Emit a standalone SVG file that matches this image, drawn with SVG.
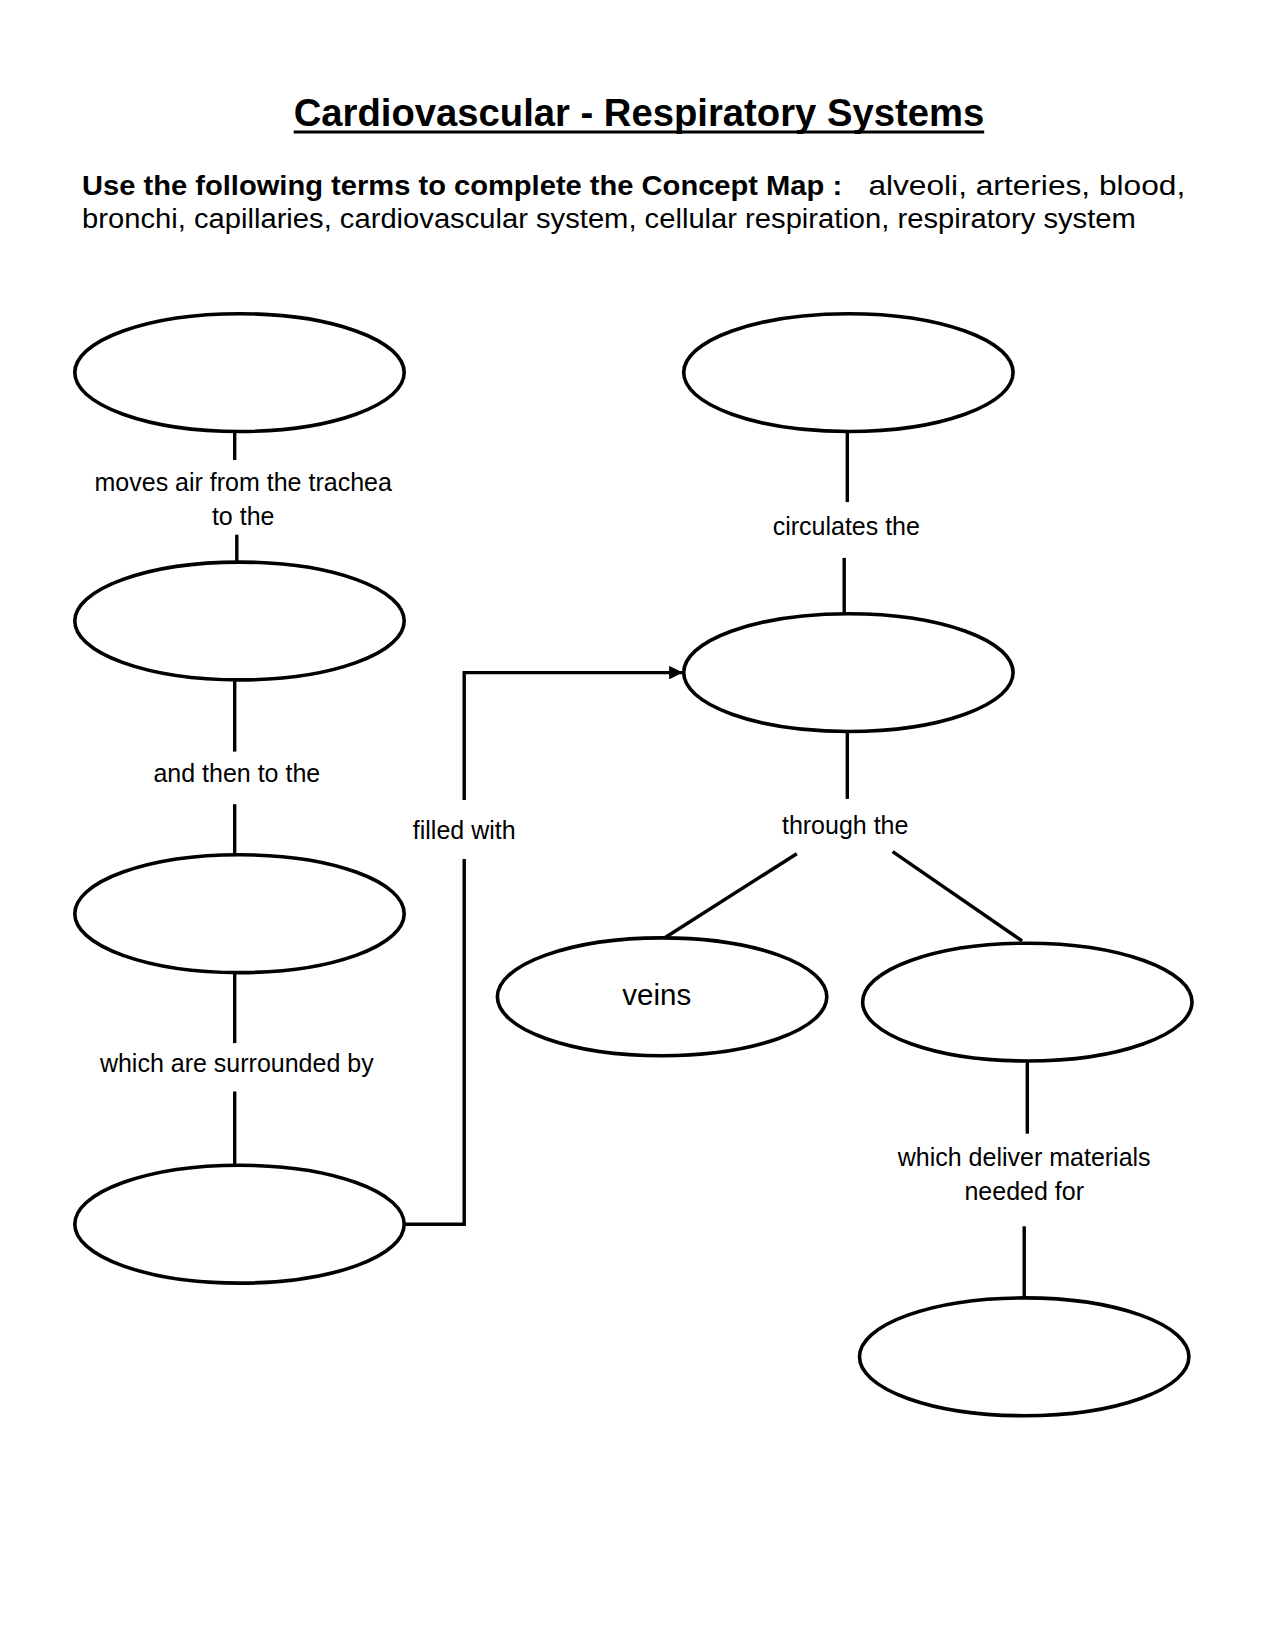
<svg xmlns="http://www.w3.org/2000/svg" width="1275" height="1650" viewBox="0 0 1275 1650">
<style>
.node{fill:none;stroke:#000;stroke-width:3.6}
.conn{fill:none;stroke:#000;stroke-width:3.4}
.lbl{font-family:"Liberation Sans",Arial,sans-serif;font-size:25px;fill:#000;text-anchor:middle}
.title{font-family:"Comic Sans MS","Liberation Sans",sans-serif;font-size:38px;font-weight:bold;fill:#000}
.ins{font-family:"Liberation Sans",Arial,sans-serif;font-size:27px;fill:#000}
</style>
<defs>
<marker id="arr" viewBox="0 0 10 10" refX="10" refY="5" markerWidth="4" markerHeight="4" orient="auto" markerUnits="strokeWidth">
<path d="M0,0 L10,5 L0,10 z" fill="#000"/>
</marker>
</defs>
<rect width="1275" height="1650" fill="#fff"/>
<g id="header">
<text class="title" x="293.7" y="126.3" textLength="690.5" lengthAdjust="spacingAndGlyphs">Cardiovascular - Respiratory Systems</text>
<line x1="293.7" y1="132" x2="984.2" y2="132" stroke="#000" stroke-width="3"/>
<text class="ins" x="82.1" y="194.7"><tspan font-weight="bold" textLength="760" lengthAdjust="spacingAndGlyphs">Use the following terms to complete the Concept Map :</tspan></text>
<text class="ins" x="868.4" y="194.7" textLength="316.8" lengthAdjust="spacingAndGlyphs">alveoli, arteries, blood,</text>
<text class="ins" x="82.1" y="228.4" textLength="1053.7" lengthAdjust="spacingAndGlyphs">bronchi, capillaries, cardiovascular system, cellular respiration, respiratory system</text>
</g>
<g id="connectors">
<line class="conn" x1="234.7" y1="431.5" x2="234.7" y2="460"/>
<line class="conn" x1="236.8" y1="534.7" x2="236.8" y2="562.1"/>
<line class="conn" x1="234.7" y1="679.9" x2="234.7" y2="751.6"/>
<line class="conn" x1="234.7" y1="804.2" x2="234.7" y2="854.8"/>
<line class="conn" x1="234.7" y1="972.6" x2="234.7" y2="1043.1"/>
<line class="conn" x1="234.7" y1="1091.5" x2="234.7" y2="1165.3"/>
<path class="conn" d="M404.2 1224.2 H464.2 V858.9"/>
<path class="conn" d="M464.2 800 V672.6 H682.7" marker-end="url(#arr)"/>
<line class="conn" x1="847.3" y1="431.5" x2="847.3" y2="502.1"/>
<line class="conn" x1="844.2" y1="557.9" x2="844.2" y2="613.7"/>
<line class="conn" x1="847.3" y1="731.5" x2="847.3" y2="798.9"/>
<line class="conn" x1="796.8" y1="853.7" x2="665.2" y2="937.5"/>
<line class="conn" x1="892.6" y1="851.6" x2="1022.1" y2="941"/>
<line class="conn" x1="1027.3" y1="1061" x2="1027.3" y2="1133.7"/>
<line class="conn" x1="1024.2" y1="1226.3" x2="1024.2" y2="1297.9"/>
<text class="lbl" x="243.2" y="490.5">moves air from the trachea</text>
<text class="lbl" x="243.2" y="525.2">to the</text>
<text class="lbl" x="236.8" y="782.1">and then to the</text>
<text class="lbl" x="236.8" y="1071.5">which are surrounded by</text>
<text class="lbl" x="464.2" y="838.9">filled with</text>
<text class="lbl" x="846.3" y="534.7">circulates the</text>
<text class="lbl" x="845.2" y="833.7">through the</text>
<text class="lbl" x="1024.2" y="1166.3">which deliver materials</text>
<text class="lbl" x="1024.2" y="1200">needed for</text>
</g>
<g id="n1"><ellipse class="node" cx="239.5" cy="372.6" rx="164.7" ry="58.9"/></g>
<g id="n2"><ellipse class="node" cx="239.5" cy="621" rx="164.7" ry="58.9"/></g>
<g id="n3"><ellipse class="node" cx="239.5" cy="913.7" rx="164.7" ry="58.9"/></g>
<g id="n4"><ellipse class="node" cx="239.5" cy="1224.2" rx="164.7" ry="58.9"/></g>
<g id="n5"><ellipse class="node" cx="848.4" cy="372.6" rx="164.7" ry="58.9"/></g>
<g id="n6"><ellipse class="node" cx="848.4" cy="672.6" rx="164.7" ry="58.9"/></g>
<g id="n7"><ellipse class="node" cx="662.1" cy="996.8" rx="164.7" ry="58.9"/><text class="lbl" x="656.8" y="1005.2" style="font-size:29.5px">veins</text></g>
<g id="n8"><ellipse class="node" cx="1027.3" cy="1002.1" rx="164.7" ry="58.9"/></g>
<g id="n9"><ellipse class="node" cx="1024.2" cy="1356.8" rx="164.7" ry="58.9"/></g>
</svg>
